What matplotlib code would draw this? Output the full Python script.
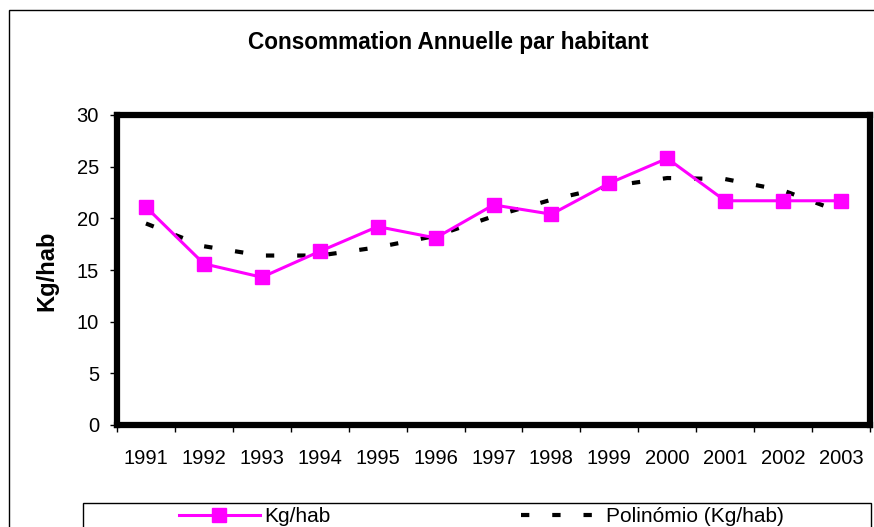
import matplotlib
matplotlib.use("Agg")
import matplotlib.pyplot as plt
from matplotlib.patches import Rectangle
from matplotlib.lines import Line2D

years = ['1991', '1992', '1993', '1994', '1995', '1996', '1997',
         '1998', '1999', '2000', '2001', '2002', '2003']
kg_hab = [21.1, 15.6, 14.3, 16.8, 19.2, 18.1, 21.3, 20.4, 23.4, 25.8, 21.7, 21.7, 21.7]
# trend curve
poly_trend = [19.5, 17.3, 16.4, 16.4, 17.2, 18.3, 20.2, 21.8, 23.1, 23.9, 23.8, 22.7, 20.6]

plt.rcParams['font.family'] = ['Liberation Sans', 'DejaVu Sans']

W, H = 874, 527
fig = plt.figure(figsize=(W / 100, H / 100), dpi=100)
ax = fig.add_axes([117 / W, 1 - 425 / H, (870 - 117) / W, (425 - 115) / H])

x = list(range(len(years)))
ax.plot(x, poly_trend, color='black', lw=3, linestyle=(0, (2, 5.5)), zorder=2)
ax.plot(x, kg_hab, color='#FF00FF', lw=2.2, marker='s', markersize=10.5,
        markerfacecolor='#FF00FF', markeredgecolor='#FF00FF', zorder=3)

ax.set_xlim(-0.5, len(years) - 0.5)
ax.set_ylim(0, 30)
ax.set_yticks(range(0, 31, 5))
ax.set_xticks(x)
ax.set_xticklabels(years)
ax.set_xticks([i - 0.5 for i in range(len(years) + 1)], minor=True)
ax.tick_params(axis='x', which='major', length=0, pad=17, labelsize=14.5)
ax.tick_params(axis='x', which='minor', length=5, width=1, direction='out')
ax.tick_params(axis='y', length=5, width=1, direction='out', pad=8, labelsize=14.5)
for sp in ax.spines.values():
    sp.set_linewidth(4.5)
    sp.set_color('black')

fig.text(47 / W, 1 - 271 / H, 'Kg/hab', rotation=90, ha='center', va='center',
         fontsize=17, fontweight='bold')
fig.text(448 / W, 1 - 42 / H, 'Consommation Annuelle par habitant', ha='center',
         va='center', fontsize=16.3, fontweight='bold')

# outer chart border
fig.patches.append(Rectangle((9 / W, -0.5), 2, 1.5 - 10 / H, transform=fig.transFigure,
                             fill=False, lw=1, edgecolor='black'))
# legend box (cut off at the bottom)
fig.patches.append(Rectangle((83 / W, -0.5), (871 - 83) / W, 0.5 + 1 - 503 / H,
                             transform=fig.transFigure, fill=False, lw=1, edgecolor='black'))

h1 = Line2D([], [], color='#FF00FF', lw=2.2, marker='s', markersize=10.5)
h2 = Line2D([], [], color='black', lw=3, linestyle=(0, (2, 5.5)))
fig.legend([h1], ['Kg/hab'], loc='center left', bbox_to_anchor=(171 / W, 1 - 517 / H),
           frameon=False, fontsize=15, handlelength=3.85, handletextpad=0.25,
           borderaxespad=0)
fig.legend([h2], ['Polinómio (Kg/hab)'], loc='center left', bbox_to_anchor=(513 / W, 1 - 517 / H),
           frameon=False, fontsize=15, handlelength=3.4, handletextpad=0.65,
           borderaxespad=0)

fig.savefig('out.png', dpi=100)
